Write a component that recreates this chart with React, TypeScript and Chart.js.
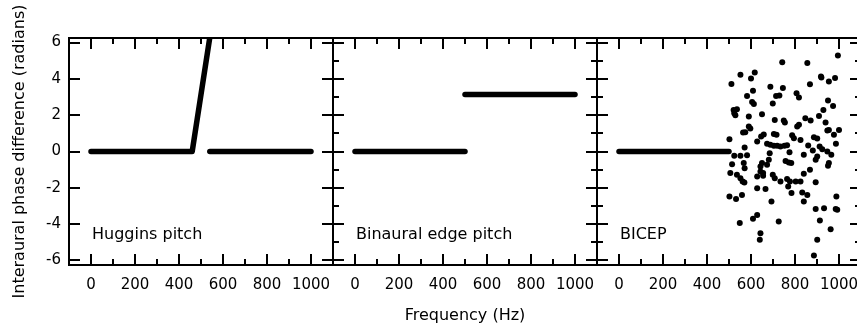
import React, { useEffect, useRef } from 'react';
import { Chart, registerables } from 'chart.js';

Chart.register(...registerables);

// ---------- data ----------
const panelLabels = ['Huggins pitch', 'Binaural edge pitch', 'BICEP'];
const xAxisTitle = 'Frequency (Hz)';
const yAxisTitle = 'Interaural phase difference (radians)';

// Huggins pitch: flat, 2π ramp, flat
const hugginsFreqA = [0, 460, 540];
const hugginsIpdA = [0, 0, 6.28];
const hugginsFreqB = [540, 1000];
const hugginsIpdB = [0, 0];

// Binaural edge pitch: 0 below 500 Hz, π above
const edgeFreqLow = [0, 500];
const edgeIpdLow = [0, 0];
const edgeFreqHigh = [500, 1000];
const edgeIpdHigh = [3.14, 3.14];

// BICEP: 0 below 500 Hz, random phases above
const bicepFreqFlat = [0, 500];
const bicepIpdFlat = [0, 0];
const bicepFreq = [
  995, 742, 856, 552, 617, 600, 511, 918, 920, 954, 982, 868, 609, 582, 688, 714, 729, 745,
  807, 818, 605, 613, 699, 950, 973, 929, 521, 536, 524, 529, 590, 650, 749, 754, 708, 847,
  871, 909, 818, 810, 939, 590, 597, 564, 574, 646, 658, 704, 716, 787, 795, 825, 886, 901,
  954, 947, 1000, 977, 502, 628, 571, 673, 688, 704, 719, 734, 752, 764, 860, 912, 924, 947,
  965, 986, 775, 524, 552, 582, 685, 840, 881, 514, 567, 571, 650, 643, 681, 673, 757, 772,
  783, 901, 894, 954, 950, 506, 536, 552, 562, 570, 628, 643, 655, 655, 699, 708, 734, 764,
  777, 803, 825, 769, 784, 840, 868, 894, 502, 532, 559, 628, 666, 693, 833, 856, 840, 988,
  894, 932, 985, 992, 549, 609, 628, 726, 913, 962, 643, 640, 901, 886
];
const bicepIpd = [
  5.28, 4.92, 4.88, 4.22, 4.35, 4.02, 3.72, 4.13, 4.07, 3.85, 4.05, 3.71, 3.34, 3.06, 3.56, 3.06, 3.08, 3.49,
  3.21, 2.97, 2.72, 2.61, 2.64, 2.81, 2.51, 2.29, 2.29, 2.33, 2.11, 2.0, 1.93, 2.05, 1.71, 1.6, 1.74, 1.83,
  1.71, 1.96, 1.47, 1.38, 1.6, 1.38, 1.27, 1.05, 1.06, 0.83, 0.94, 0.97, 0.92, 0.9, 0.73, 0.64, 0.79, 0.72,
  1.19, 1.16, 1.19, 0.92, 0.68, 0.55, 0.22, 0.42, 0.37, 0.31, 0.31, 0.28, 0.31, 0.35, 0.33, 0.28, 0.13, 0.0,
  -0.18, 0.42, -0.04, -0.24, -0.24, -0.2, -0.09, -0.18, 0.06, -0.7, -0.64, -0.92, -0.64, -0.83, -0.46, -0.73, -0.53, -0.61,
  -0.64, -0.28, -0.46, -0.64, -0.79, -1.19, -1.28, -1.47, -1.65, -1.71, -1.38, -1.1, -1.19, -1.34, -1.28, -1.47, -1.65, -1.52,
  -1.65, -1.65, -1.65, -1.93, -2.29, -1.23, -1.01, -1.69, -2.48, -2.62, -2.39, -2.02, -2.06, -2.75, -2.26, -2.39, -2.75, -2.48,
  -3.16, -3.12, -3.16, -3.21, -3.94, -3.71, -3.49, -3.85, -3.8, -4.28, -4.5, -4.86, -4.86, -5.72
];

// ---------- helpers ----------
const pts = (xs: number[], ys: number[]) => xs.map((x, i) => ({ x, y: ys[i] }));

const lineDs = (xs: number[], ys: number[]) => ({
  data: pts(xs, ys),
  showLine: true,
  borderColor: '#000',
  backgroundColor: '#000',
  borderWidth: 5.5,
  borderCapStyle: 'round',
  borderJoinStyle: 'round',
  pointRadius: 0,
  pointHoverRadius: 0,
});

const dotDs = (xs: number[], ys: number[]) => ({
  data: pts(xs, ys),
  showLine: false,
  backgroundColor: '#000',
  borderColor: '#000',
  borderWidth: 0,
  pointRadius: 3,
  pointHoverRadius: 3,
});

const framePlugin = (label: string, drawRightBorder: boolean) => ({
  id: 'frame',
  afterDraw(chart: any) {
    const { ctx, chartArea: a, scales } = chart;
    const xs = scales.x;
    const ys = scales.y;
    ctx.save();
    ctx.strokeStyle = '#000';
    ctx.lineWidth = 2;
    ctx.beginPath();
    ctx.moveTo(a.left, a.top);
    ctx.lineTo(a.right + 1, a.top);
    ctx.moveTo(a.left, a.bottom);
    ctx.lineTo(a.right + 1, a.bottom);
    ctx.moveTo(a.left, a.top - 1);
    ctx.lineTo(a.left, a.bottom + 1);
    if (drawRightBorder) {
      ctx.moveTo(a.right, a.top - 1);
      ctx.lineTo(a.right, a.bottom + 1);
    }
    ctx.stroke();
    ctx.beginPath();
    for (const t of xs.ticks) {
      const v = t.value;
      if (v <= xs.min || v >= xs.max) continue;
      const p = Math.round(xs.getPixelForValue(v));
      const len = v % 200 === 0 ? 11 : 6;
      ctx.moveTo(p, a.bottom);
      ctx.lineTo(p, a.bottom - len);
      ctx.moveTo(p, a.top);
      ctx.lineTo(p, a.top + len);
    }
    for (const t of ys.ticks) {
      const v = t.value;
      if (v <= ys.min || v >= ys.max || !Number.isInteger(v)) continue;
      const p = Math.round(ys.getPixelForValue(v));
      const len = v % 2 === 0 ? 11 : 6;
      ctx.moveTo(a.left, p);
      ctx.lineTo(a.left + len, p);
      ctx.moveTo(a.right, p);
      ctx.lineTo(a.right - len, p);
    }
    ctx.stroke();
    ctx.fillStyle = '#000';
    ctx.font = '16px "DejaVu Sans", sans-serif';
    ctx.textAlign = 'left';
    ctx.textBaseline = 'middle';
    ctx.fillText(label, xs.getPixelForValue(0) + 1, ys.getPixelForValue(-4.6));
    ctx.restore();
  },
});

type PanelProps = {
  datasets: any[];
  label: string;
  left: number;
  width: number;
  yWidth: number;
  padRight: number;
  showYLabels: boolean;
  showXTitle: boolean;
  drawRightBorder: boolean;
};

function Panel(p: PanelProps) {
  const ref = useRef<HTMLCanvasElement>(null);
  useEffect(() => {
    if (!ref.current) return;
    Chart.defaults.font.family = '"DejaVu Sans", sans-serif';
    Chart.defaults.color = '#000';
    const chart = new Chart(ref.current, {
      type: 'scatter',
      data: { datasets: p.datasets as any },
      options: {
        animation: false,
        responsive: false,
        maintainAspectRatio: false,
        events: [],
        layout: { padding: { top: 38, right: p.padRight, bottom: 0, left: 0 } },
        plugins: { legend: { display: false }, tooltip: { enabled: false } },
        scales: {
          x: {
            type: 'linear',
            min: -100,
            max: 1100,
            grid: { display: false, drawTicks: false },
            border: { display: false },
            ticks: {
              stepSize: 100,
              autoSkip: false,
              maxRotation: 0,
              minRotation: 0,
              includeBounds: false,
              padding: 11,
              color: '#000',
              font: { size: 15 },
              callback: (v: any) => (v % 200 === 0 && v >= 0 && v <= 1000 ? String(v) : ''),
            },
            title: {
              display: p.showXTitle,
              text: xAxisTitle,
              color: '#000',
              font: { size: 16 },
              padding: { top: 0, bottom: 4 },
            },
            afterFit: (s: any) => {
              s.height = 64;
              s.paddingLeft = 0;
              s.paddingRight = 0;
            },
          } as any,
          y: {
            type: 'linear',
            min: -6.25,
            max: 6.25,
            grid: { display: false, drawTicks: false },
            border: { display: false },
            ticks: {
              display: p.showYLabels,
              stepSize: 1,
              includeBounds: false,
              padding: 8,
              color: '#000',
              font: { size: 15 },
              callback: (v: any) => (Number.isInteger(v) && v % 2 === 0 ? String(v) : ''),
            },
            title: {
              display: p.showYLabels,
              text: yAxisTitle,
              color: '#000',
              font: { size: 16 },
              padding: { top: 10, bottom: 0 },
            },
            afterFit: (s: any) => {
              s.width = p.yWidth;
              s.paddingTop = 0;
              s.paddingBottom = 0;
            },
          } as any,
        },
      },
      plugins: [framePlugin(p.label, p.drawRightBorder)],
    });
    return () => chart.destroy();
  }, []);
  return (
    <canvas
      ref={ref}
      width={p.width}
      height={329}
      style={{ position: 'absolute', left: p.left, top: 0, width: p.width, height: 329 }}
    />
  );
}

export default function App() {
  return (
    <div
      style={{
        position: 'fixed',
        left: 0,
        top: 0,
        width: 857,
        height: 329,
        overflow: 'hidden',
        background: '#fff',
      }}
    >
      <Panel
        datasets={[lineDs(hugginsFreqA, hugginsIpdA), lineDs(hugginsFreqB, hugginsIpdB)]}
        label={panelLabels[0]}
        left={0}
        width={345}
        yWidth={69}
        padRight={12}
        showYLabels={true}
        showXTitle={false}
        drawRightBorder={true}
      />
      <Panel
        datasets={[lineDs(edgeFreqLow, edgeIpdLow), lineDs(edgeFreqHigh, edgeIpdHigh)]}
        label={panelLabels[1]}
        left={323}
        width={280}
        yWidth={10}
        padRight={6}
        showYLabels={false}
        showXTitle={true}
        drawRightBorder={true}
      />
      <Panel
        datasets={[lineDs(bicepFreqFlat, bicepIpdFlat), dotDs(bicepFreq, bicepIpd)]}
        label={panelLabels[2]}
        left={587}
        width={290}
        yWidth={10}
        padRight={16}
        showYLabels={false}
        showXTitle={false}
        drawRightBorder={true}
      />
    </div>
  );
}
